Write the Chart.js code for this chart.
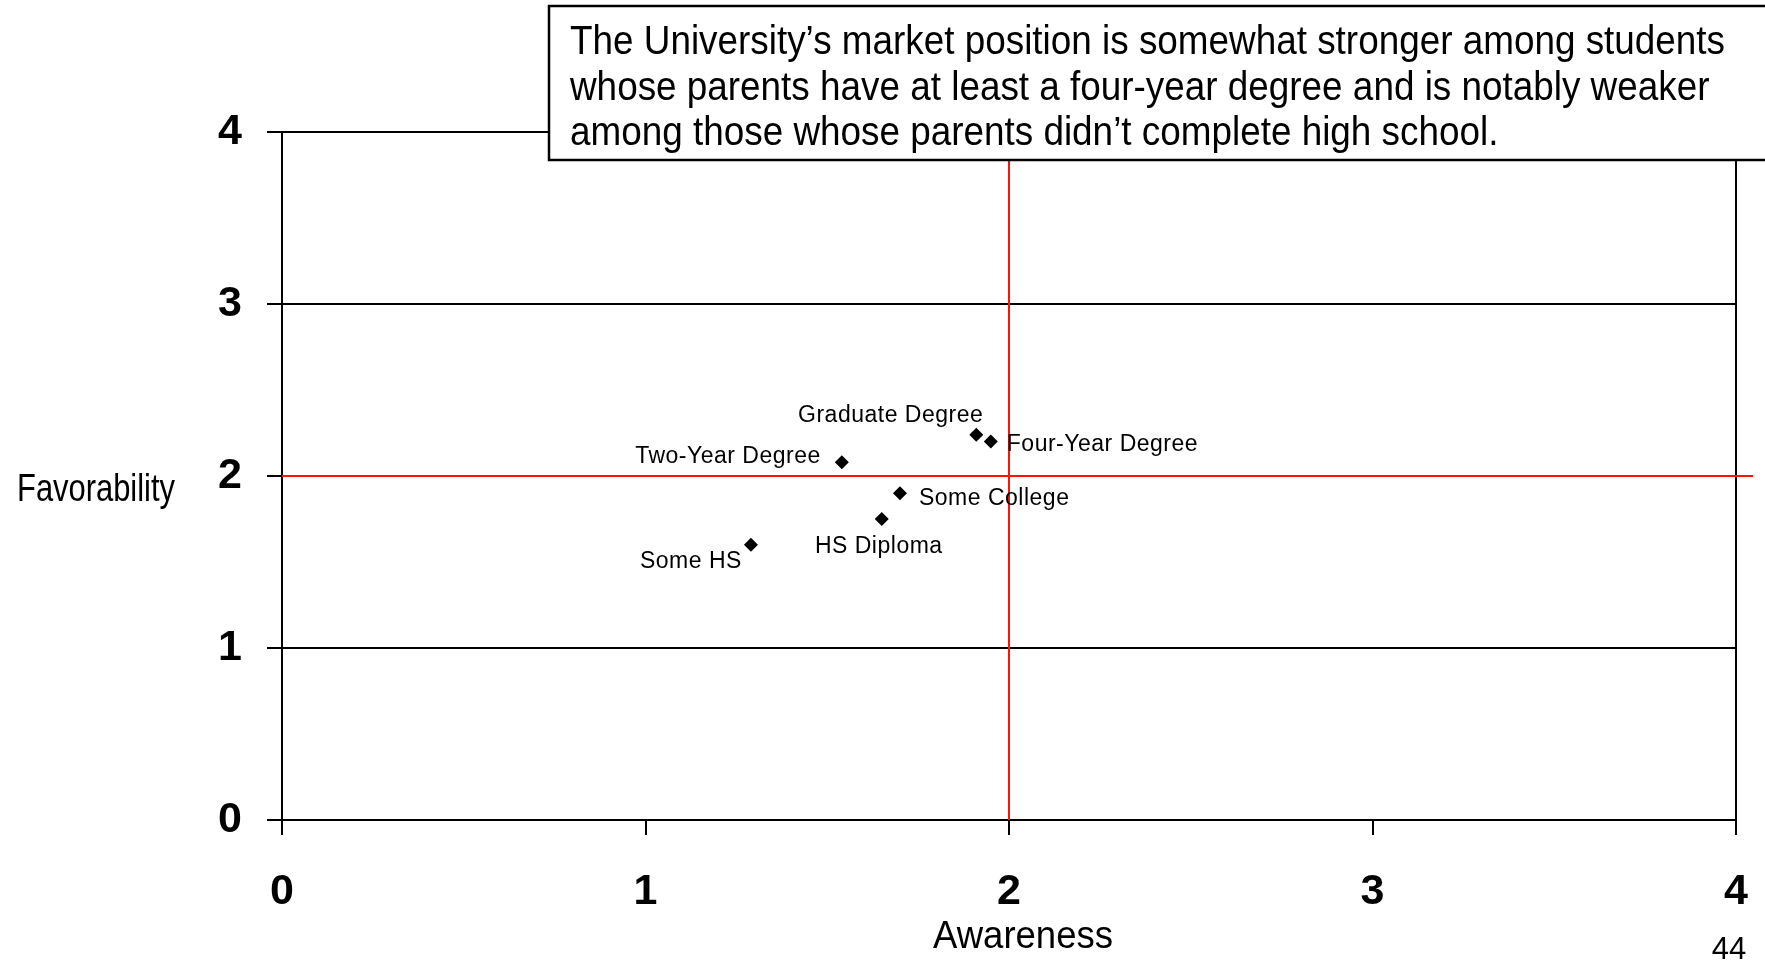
<!DOCTYPE html>
<html>
<head>
<meta charset="utf-8">
<script src="https://cdn.jsdelivr.net/npm/chart.js@4.4.1/dist/chart.umd.min.js"></script>
<style>
    body { margin: 0; background: #fff; }
    #wrap { width: 1765px; height: 968px; }
</style>
</head>
<body>
<div id="wrap"><canvas id="positionChart" width="1765" height="968"></canvas></div>
<script>
// parent education groups
const categories = ['Graduate Degree', 'Four-Year Degree', 'Two-Year Degree', 'Some College', 'HS Diploma', 'Some HS'];
const awareness = [1.91, 1.95, 1.54, 1.70, 1.65, 1.29];
const favorability = [2.24, 2.20, 2.08, 1.90, 1.75, 1.60];

// red quadrant lines
const refAwareness = 2;
const refFavorability = 2;

const axisTicks = [0, 1, 2, 3, 4];
const xTitle = 'Awareness';
const yTitle = 'Favorability';
const pageNumber = '44';
const noteLines = [
    'The University\u2019s market position is somewhat stronger among students',
    'whose parents have at least a four-year degree and is notably weaker',
    'among those whose parents didn\u2019t complete high school.'
];

// where each point label sits relative to its marker
const labelPlacement = [
    { align: 'right', dx: 7, dy: -19 },
    { align: 'left', dx: 16, dy: 3 },
    { align: 'right', dx: -21, dy: -6 },
    { align: 'left', dx: 19, dy: 5 },
    { align: 'center', dx: -3, dy: 28 },
    { align: 'right', dx: -9, dy: 17 }
];

const FONT = '"Liberation Sans", Arial, sans-serif';

// draws text squeezed horizontally so it fills a given width
function fitText(ctx, text, x, y, size, width, align) {
    ctx.save();
    ctx.font = size + 'px ' + FONT;
    const w = ctx.measureText(text).width;
    const sx = width ? width / w : 1;
    let left = x;
    if (align === 'center') left = x - w * sx / 2;
    if (align === 'right') left = x - w * sx;
    ctx.translate(left, y);
    ctx.scale(sx, 1);
    ctx.textAlign = 'left';
    ctx.textBaseline = 'middle';
    ctx.fillStyle = '#000';
    ctx.fillText(text, 0, 0);
    ctx.restore();
}

const overlay = {
    id: 'overlay',
    beforeDatasetsDraw(chart) {
        const { ctx, chartArea, scales } = chart;
        const xr = scales.x.getPixelForValue(refAwareness);
        const yr = scales.y.getPixelForValue(refFavorability);
        ctx.save();
        ctx.strokeStyle = 'rgb(255, 20, 0)';
        ctx.lineWidth = 2;
        ctx.beginPath();
        ctx.moveTo(chartArea.left, yr);
        ctx.lineTo(chartArea.right + 17, yr);
        ctx.moveTo(xr, chartArea.top);
        ctx.lineTo(xr, chartArea.bottom);
        ctx.stroke();
        ctx.restore();
    },
    afterDraw(chart) {
        const { ctx } = chart;
        const pts = chart.getDatasetMeta(0).data;

        pts.forEach((p, i) => {
            const lp = labelPlacement[i];
            ctx.save();
            ctx.font = '23px ' + FONT;
            ctx.letterSpacing = '0.5px';
            ctx.fillStyle = '#000';
            ctx.textAlign = lp.align;
            ctx.textBaseline = 'middle';
            ctx.fillText(categories[i], p.x + lp.dx, p.y + lp.dy);
            ctx.restore();
        });

        // axis titles and slide number
        fitText(ctx, xTitle, 1023, 938, 38, 180, 'center');
        fitText(ctx, yTitle, 17, 491, 38, 158, 'left');
        fitText(ctx, pageNumber, 1729, 950, 31, 0, 'center');

        // commentary box
        ctx.save();
        ctx.fillStyle = '#fff';
        ctx.strokeStyle = '#000';
        ctx.lineWidth = 2.5;
        ctx.fillRect(549, 6, 1240, 154);
        ctx.strokeRect(549, 6, 1240, 154);
        ctx.font = '40px ' + FONT;
        const sq = 1155 / ctx.measureText(noteLines[0]).width;
        const widths = noteLines.map(l => ctx.measureText(l).width * sq);
        ctx.restore();
        noteLines.forEach((line, i) => {
            fitText(ctx, line, 570, 43 + i * 45.5, 40, widths[i], 'left');
        });
    }
};

const tickFont = { family: FONT, size: 43, weight: 'bold' };

new Chart(document.getElementById('positionChart'), {
    type: 'scatter',
    data: {
        datasets: [{
            label: 'Education',
            data: categories.map((c, i) => ({ x: awareness[i], y: favorability[i] })),
            pointStyle: 'rectRot',
            pointRadius: 7,
            pointHoverRadius: 7,
            backgroundColor: '#000',
            borderColor: '#000',
            borderWidth: 0
        }]
    },
    options: {
        responsive: false,
        animation: false,
        layout: { padding: { top: 132, right: 29, left: 0, bottom: 0 } },
        plugins: {
            legend: { display: false },
            tooltip: { enabled: false }
        },
        scales: {
            x: {
                type: 'linear',
                min: axisTicks[0],
                max: axisTicks[axisTicks.length - 1],
                afterBuildTicks: (s) => { s.ticks = axisTicks.map(v => ({ value: v })); },
                afterFit: (s) => { s.height = 148; s.paddingLeft = 0; s.paddingRight = 0; },
                ticks: { font: tickFont, color: '#000', padding: 31 },
                grid: {
                    color: (c) => (c.tick && c.tick.value === 4 ? '#000' : 'rgba(0,0,0,0)'),
                    tickColor: '#000',
                    tickLength: 15,
                    lineWidth: 2
                },
                border: { display: true, color: '#000', width: 2 }
            },
            y: {
                type: 'linear',
                min: axisTicks[0],
                max: axisTicks[axisTicks.length - 1],
                afterBuildTicks: (s) => { s.ticks = axisTicks.map(v => ({ value: v })); },
                afterFit: (s) => { s.width = 282; s.paddingTop = 0; s.paddingBottom = 0; },
                ticks: { font: tickFont, color: '#000', padding: 25 },
                grid: { color: '#000', tickColor: '#000', tickLength: 15, lineWidth: 2 },
                border: { display: true, color: '#000', width: 2 }
            }
        }
    },
    plugins: [overlay]
});
</script>
</body>
</html>
